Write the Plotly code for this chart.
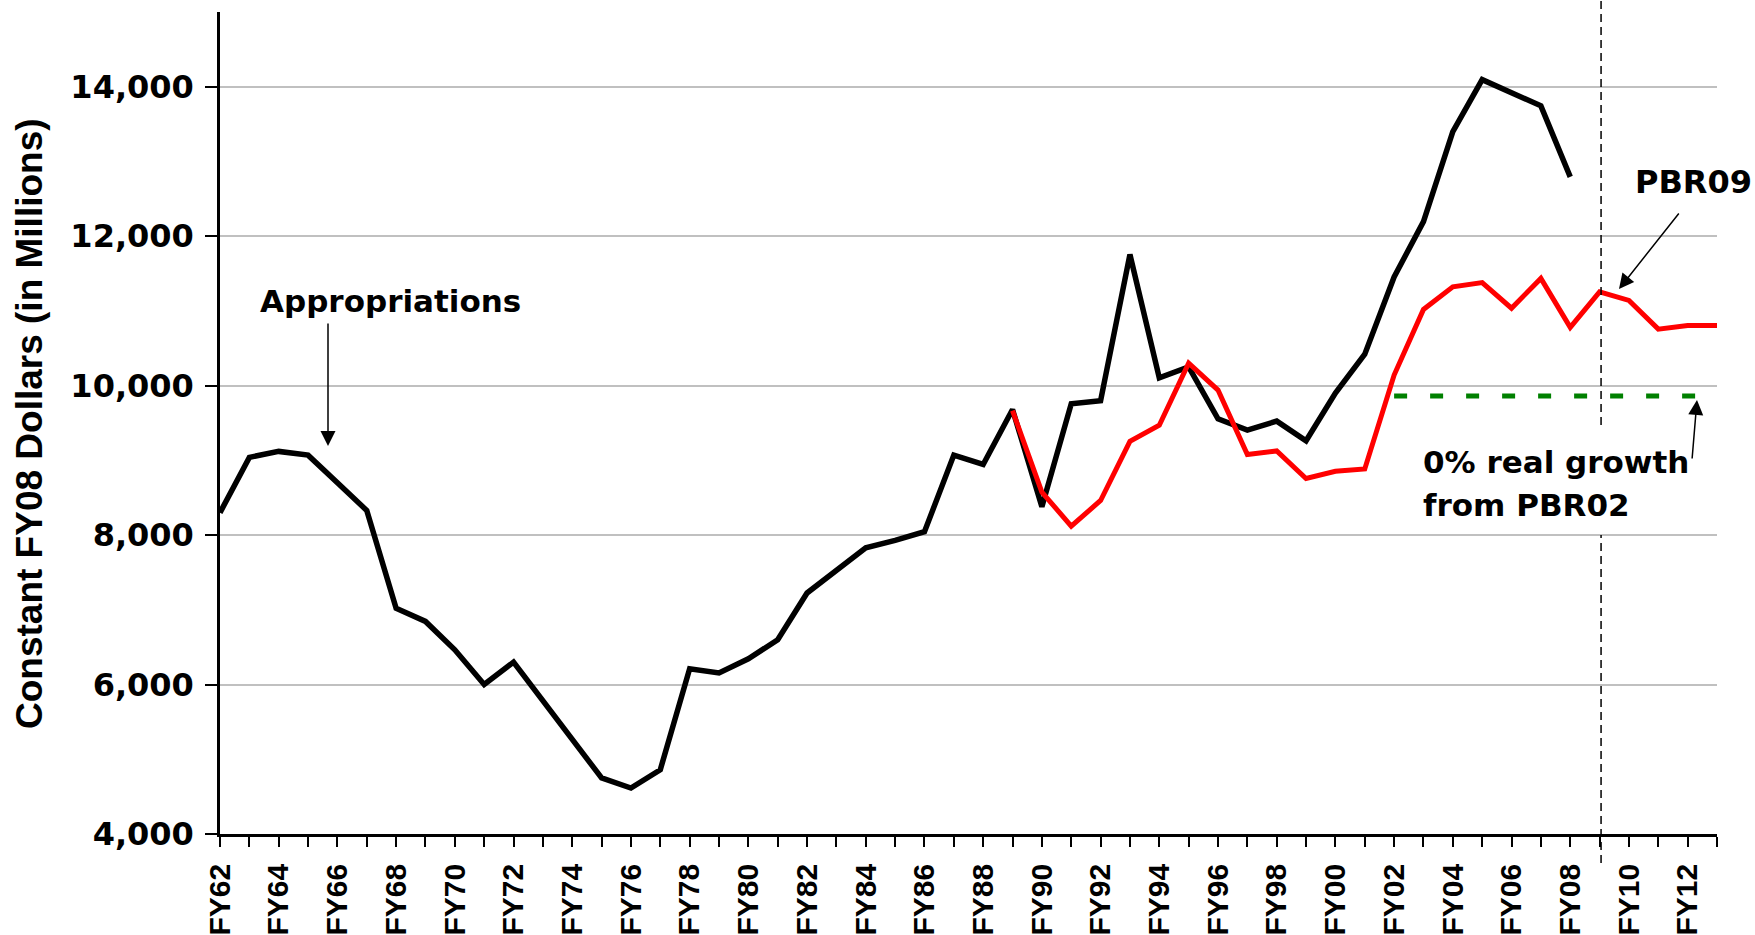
import plotly.graph_objects as go

# ---- data (constant FY08 dollars, millions) ----
approp_years = list(range(1962, 2009))
appropriations = [8300, 9040, 9120, 9070, 8700, 8330, 7020, 6845, 6465, 6000,
                  6300, 5790, 5270, 4750, 4615, 4860, 6210, 6155, 6345, 6600,
                  7225, 7520, 7830, 7930, 8045, 9070, 8945, 9680, 8380, 9757,
                  9797, 11755, 10105, 10250, 9555, 9405, 9525, 9262, 9900, 10420,
                  11455, 12195, 13400, 14095, 13920, 13744, 12793]

pbr_years = list(range(1989, 2014))
pbr09 = [9665, 8575, 8120, 8463, 9254, 9470, 10300, 9941, 9078, 9126,
         8758, 8854, 8886, 10141, 11020, 11323, 11379, 11036, 11435, 10780,
         11255, 11140, 10756, 10804, 10804]

zero_years = list(range(2002, 2014))
zero_growth = [9860] * len(zero_years)

all_years = list(range(1962, 2014))
tick_text = [("FY%02d" % (y % 100)) if (y - 1962) % 2 == 0 else "" for y in all_years]
y_ticks = [4000, 6000, 8000, 10000, 12000, 14000]

fig = go.Figure()
fig.add_trace(go.Scatter(x=approp_years, y=appropriations, mode="lines",
                         line=dict(color="#000000", width=5.5), showlegend=False))
fig.add_trace(go.Scatter(x=pbr_years, y=pbr09, mode="lines",
                         line=dict(color="#ff0000", width=5), showlegend=False))
fig.add_trace(go.Scatter(x=zero_years, y=zero_growth, mode="lines",
                         line=dict(color="#008000", width=5, dash="13px,23px"),
                         showlegend=False))

W, H = 1755, 935
L, R, T, B = 220, 38, 12, 101
pw, ph = W - L - R, H - T - B


def px(xp):
    return (xp - L) / pw


def py(yp):
    return (H - B - yp) / ph


bold = dict(family="DejaVu Sans", size=31, color="#000000", weight="bold")

# vertical dashed divider (interrupted behind the text block)
for y0, y1 in [(0, 425), (535, 863)]:
    fig.add_shape(type="line", xref="x", yref="paper", x0=2009.05, x1=2009.05,
                  y0=py(y1), y1=py(y0),
                  line=dict(color="#000000", width=1.5, dash="8px,5px"))

annotations = [
    dict(text="Appropriations", x=px(390), y=py(301), xanchor="center", yanchor="middle"),
    dict(text="PBR09", x=px(1693), y=py(182), xanchor="center", yanchor="middle",
         font=dict(family="DejaVu Sans", size=32, color="#000000", weight="bold")),
    dict(text="0% real growth", x=px(1421), y=py(462), xanchor="left", yanchor="middle"),
    dict(text="from PBR02", x=px(1421), y=py(505), xanchor="left", yanchor="middle"),
]
for a in annotations:
    a.setdefault("font", bold)
    fig.add_annotation(xref="paper", yref="paper", showarrow=False, **a)

# arrows: (tip_x, tip_y, tail dx, tail dy) in pixels
arrows = [(328, 446, 0, -124), (1619, 289, 61, -77), (1697, 400, -5, 60)]
for tx, ty, dx, dy in arrows:
    fig.add_annotation(xref="paper", yref="paper", x=px(tx), y=py(ty), text="",
                       showarrow=True, ax=dx, ay=dy, arrowhead=2, arrowsize=2,
                       arrowwidth=1.5, arrowcolor="#000000")

# y-axis title
fig.add_annotation(xref="paper", yref="paper", x=px(29), y=py(424), showarrow=False,
                   text="Constant FY08 Dollars (in Millions)", textangle=-90,
                   xanchor="center", yanchor="middle",
                   font=dict(family="Liberation Sans", size=37, color="#000000", weight="bold"))

fig.update_xaxes(range=[1962, 2013], tickvals=all_years, ticktext=tick_text,
                 tickangle=-90, showgrid=False, zeroline=False, automargin=False,
                 showline=True, linecolor="#000000", linewidth=2.5,
                 ticks="outside", ticklen=10, tickwidth=2, tickcolor="#000000",
                 ticklabelstandoff=5,
                 tickfont=dict(family="Liberation Sans", size=30, color="#000000", weight="bold"))
fig.update_yaxes(range=[4000, 15000], tickvals=y_ticks, tickformat=",",
                 showgrid=True, gridcolor="#c0c0c0", gridwidth=2, zeroline=False,
                 automargin=False,
                 showline=True, linecolor="#000000", linewidth=2.5,
                 ticks="outside", ticklen=12, tickwidth=2, tickcolor="#000000",
                 ticklabelstandoff=5,
                 tickfont=dict(family="DejaVu Sans", size=32, color="#000000", weight="bold"))

fig.update_layout(width=W, height=H, margin=dict(l=L, r=R, t=T, b=B, autoexpand=False),
                  paper_bgcolor="#ffffff", plot_bgcolor="#ffffff", showlegend=False)

fig.write_html("out.html", config={"displayModeBar": False},
               post_script="document.body.style.margin='0';document.body.style.overflow='hidden';")
